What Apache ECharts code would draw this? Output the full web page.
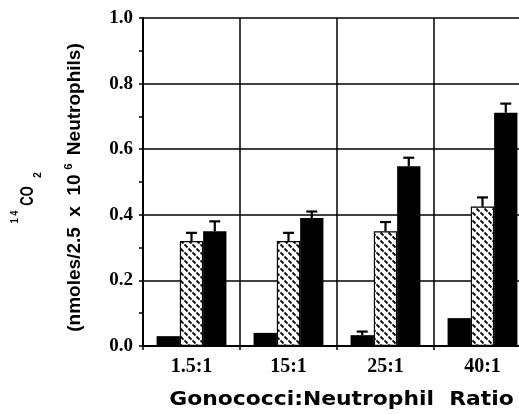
<!DOCTYPE html>
<html><head><meta charset="utf-8">
<script src="https://cdn.jsdelivr.net/npm/echarts@6/dist/echarts.min.js"></script>
<style>html,body{margin:0;padding:0;background:#fff;overflow:hidden}#c{width:531px;height:414px}</style>
</head><body><div id="c"></div>
<script>
const categories = ['1.5:1', '15:1', '25:1', '40:1'];
const controlValues = [0.03, 0.04, 0.033, 0.085];
const controlUpper  = [null, null, 0.044, null];
const patternValues = [0.32, 0.32, 0.35, 0.425];
const patternUpper  = [0.345, 0.345, 0.378, 0.453];
const solidValues   = [0.35, 0.39, 0.548, 0.711];
const solidUpper    = [0.38, 0.41, 0.574, 0.739];
const yTicks = [0, 0.2, 0.4, 0.6, 0.8, 1.0];
const xTitle = 'Gonococci:Neutrophil  Ratio';

// hatch pattern tile
const tile = document.createElement('canvas');
tile.width = 8; tile.height = 8;
const g = tile.getContext('2d');
g.fillStyle = '#fff'; g.fillRect(0, 0, 8, 8);
g.strokeStyle = '#000'; g.lineWidth = 1.8; g.lineCap = 'butt';
g.beginPath();
g.moveTo(0.5, 4.5); g.lineTo(3.5, 7.5);
g.moveTo(4.5, 0.5); g.lineTo(7.5, 3.5);
g.stroke();

const BW = 0.24; // bar width fraction of category band
const barSeries = [
  {values: controlValues, upper: controlUpper, color: '#000'},
  {values: patternValues, upper: patternUpper, color: {image: tile, repeat: 'repeat'}},
  {values: solidValues, upper: solidUpper, color: '#000'}
];

const series = [];
barSeries.forEach((s, i) => {
  series.push({
    type: 'bar', data: s.values, barWidth: (BW * 100) + '%', barGap: '0%',
    itemStyle: {color: s.color, borderColor: '#000', borderWidth: i === 1 ? 1.2 : 0},
    z: 2, silent: true
  });
});
barSeries.forEach((s, i) => {
  const offset = (i - 1) * BW;
  series.push({
    type: 'custom', z: 3, silent: true,
    data: s.values.map((v, k) => [k, v, s.upper[k]]),
    renderItem: function (params, api) {
      const up = api.value(2);
      if (up === null || isNaN(up)) return null;
      const band = api.size([1, 0])[0];
      const p0 = api.coord([api.value(0), api.value(1)]);
      const p1 = api.coord([api.value(0), up]);
      const x = p0[0] + offset * band;
      const cap = 5.5;
      return {type: 'group', children: [
        {type: 'line', shape: {x1: x, y1: p0[1], x2: x, y2: p1[1]}, style: {stroke: '#000', lineWidth: 2.2}},
        {type: 'line', shape: {x1: x - cap, y1: p1[1], x2: x + cap, y2: p1[1]}, style: {stroke: '#000', lineWidth: 2.2}}
      ]};
    }
  });
});

const sansB = {fontFamily: 'Liberation Sans', fontWeight: 'bold', fill: '#000'};
const chart = echarts.init(document.getElementById('c'));
chart.setOption({
  animation: false,
  backgroundColor: '#fff',
  grid: {left: 143, top: 18, right: 0, height: 328, containLabel: false},
  xAxis: {
    type: 'category', data: categories,
    axisLine: {lineStyle: {color: '#000', width: 2}},
    axisTick: {show: true, length: 4, lineStyle: {color: '#000', width: 1.5}},
    axisLabel: {color: '#000', fontFamily: 'Liberation Serif', fontWeight: 'bold', fontSize: 20, margin: 11},
    splitLine: {show: true, lineStyle: {color: '#000', width: 1.5}}
  },
  yAxis: {
    type: 'value', min: 0, max: 1, interval: 0.2,
    axisLine: {show: true, lineStyle: {color: '#000', width: 2}},
    axisTick: {show: true, length: 4, lineStyle: {color: '#000', width: 1.5}},
    minorTick: {show: true, splitNumber: 2, length: 4, lineStyle: {color: '#000', width: 1.5}},
    axisLabel: {color: '#000', fontFamily: 'Liberation Serif', fontWeight: 'bold', fontSize: 19, margin: 10,
      formatter: v => yTicks.find(t => Math.abs(t - v) < 1e-9) !== undefined ? v.toFixed(1) : ''},
    splitLine: {show: true, lineStyle: {color: '#000', width: 1.5}}
  },
  graphic: [
    // x-axis title (stretched horizontally like the scan)
    {type: 'text', x: 341.5, y: 400, scaleX: 1.15,
      style: Object.assign({text: xTitle, fontSize: 19, align: 'center', verticalAlign: 'middle'}, sansB, {fontFamily: 'DejaVu Sans'})},
    // y-axis title line 1: 14CO2
    {type: 'text', x: 15.5, y: 217, rotation: Math.PI / 2, scaleX: 0.9,
      style: Object.assign({text: '1 4', fontSize: 10, align: 'center', verticalAlign: 'middle'}, sansB)},
    {type: 'text', x: 28.5, y: 196, rotation: Math.PI / 2, scaleX: 0.72, scaleY: 1.0,
      style: Object.assign({text: 'CO', fontSize: 18, align: 'center', verticalAlign: 'middle'}, sansB)},
    {type: 'text', x: 38, y: 175, rotation: Math.PI / 2,
      style: Object.assign({text: '2', fontSize: 10, align: 'center', verticalAlign: 'middle'}, sansB)},
    // y-axis title line 2
    {type: 'text', x: 75, y: 187.5, rotation: Math.PI / 2, scaleX: 0.95, scaleY: 0.9,
      style: {text: '{n|(nmoles/2.5  x  10}{sup|6}{n| Neutrophils)}', align: 'center', verticalAlign: 'middle',
        rich: {
          n: {fontFamily: 'Liberation Sans', fontWeight: 'bold', fontSize: 20, fill: '#000', lineHeight: 26},
          sup: {fontFamily: 'Liberation Sans', fontWeight: 'bold', fontSize: 12, fill: '#000', lineHeight: 26, verticalAlign: 'top', padding: [0, 3, 12, 5]}
        }}}
  ],
  series: series
});
</script></body></html>
